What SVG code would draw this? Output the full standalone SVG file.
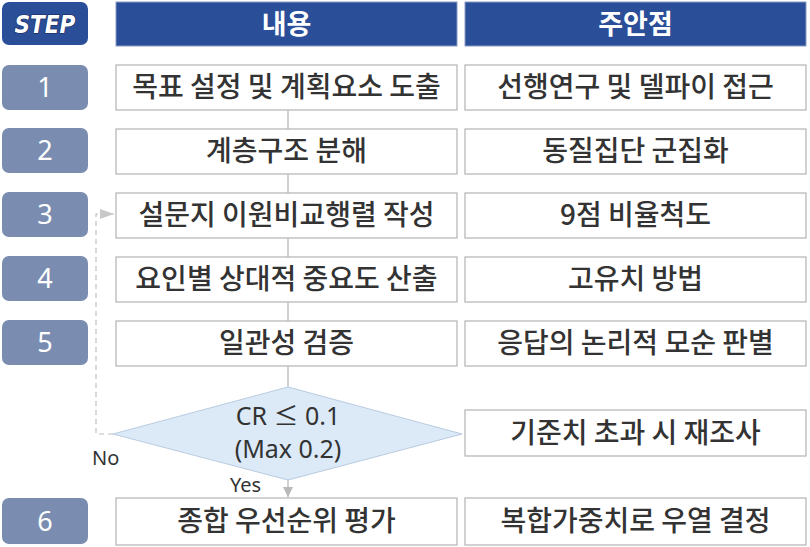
<svg xmlns="http://www.w3.org/2000/svg" width="810" height="547" viewBox="0 0 810 547">
<style>
.hdr{fill:#2b4e98;stroke:#8a9cc4;stroke-width:1}
.step{fill:#7a8db0}
.box{fill:#fff;stroke:#b3b3b3;stroke-width:1.2}
.kt{font-family:"Noto Sans CJK KR","Noto Sans",sans-serif;font-size:28px;font-weight:500;fill:#333;text-anchor:middle}
.ht{font-family:"Noto Sans CJK KR","Noto Sans",sans-serif;font-size:27px;font-weight:bold;fill:#fff;text-anchor:middle}
.nt{font-family:"Noto Sans","Noto Sans CJK KR",sans-serif;font-size:27px;fill:#fff;text-anchor:middle}
.lt{font-family:"Noto Sans","Noto Sans CJK KR",sans-serif;fill:#333}
.con{fill:none;stroke:#b3b3b3;stroke-width:1.2}
</style>
<defs>
<marker id="ah" viewBox="0 0 10 10" refX="10" refY="5" markerWidth="10" markerHeight="10" markerUnits="userSpaceOnUse" orient="auto">
<path d="M0,0 L10,5 L0,10 z" fill="#b8b8b8"/>
</marker>
<marker id="ah2" viewBox="0 0 14 10" refX="14" refY="5" markerWidth="14" markerHeight="10" markerUnits="userSpaceOnUse" orient="auto">
<path d="M0,0 L14,5 L0,10 z" fill="#c8c8c8"/>
</marker>
</defs>
<rect width="810" height="547" fill="#fff"/>
<g id="connectors">
<line class="con" x1="288" y1="110" x2="288" y2="387"/>
<line class="con" x1="288" y1="480" x2="288" y2="497" marker-end="url(#ah)"/>
<path d="M113,434 L96,434 L96,214 L114,214" fill="none" stroke="#c0c0c0" stroke-width="1.2" stroke-dasharray="5,4" marker-end="url(#ah2)"/>
</g>
<g id="header-step">
<rect x="2" y="2" width="86" height="43" rx="7" fill="#2b4e98"/>
<text x="45" y="33" font-family="DejaVu Sans Condensed,DejaVu Sans,sans-serif" font-size="24" font-weight="bold" font-style="oblique" fill="#fff" stroke="#14285a" stroke-width="1.2" paint-order="stroke" text-anchor="middle">STEP</text>
</g>
<g id="header-content">
<rect class="hdr" x="116" y="2" width="341" height="44"/>
<text class="ht" x="286.5" y="34">내용</text>
</g>
<g id="header-note">
<rect class="hdr" x="465" y="2" width="341" height="44"/>
<text class="ht" x="635.5" y="34">주안점</text>
</g>
<g id="step1">
<rect class="step" x="2" y="65" width="86" height="45" rx="7"/><text class="nt" x="45" y="97">1</text>
<rect class="box" x="116" y="65" width="341" height="45"/><text class="kt" x="286.5" y="97">목표 설정 및 계획요소 도출</text>
<rect class="box" x="465" y="65" width="341" height="45"/><text class="kt" x="635.5" y="97">선행연구 및 델파이 접근</text>
</g>
<g id="step2">
<rect class="step" x="2" y="128" width="86" height="45" rx="7"/><text class="nt" x="45" y="160">2</text>
<rect class="box" x="116" y="129" width="341" height="45"/><text class="kt" x="286.5" y="161">계층구조 분해</text>
<rect class="box" x="465" y="129" width="341" height="45"/><text class="kt" x="635.5" y="161">동질집단 군집화</text>
</g>
<g id="step3">
<rect class="step" x="2" y="192" width="86" height="45" rx="7"/><text class="nt" x="45" y="224">3</text>
<rect class="box" x="116" y="193" width="341" height="45"/><text class="kt" x="286.5" y="225">설문지 이원비교행렬 작성</text>
<rect class="box" x="465" y="193" width="341" height="45"/><text class="kt" x="635.5" y="225">9점 비율척도</text>
</g>
<g id="step4">
<rect class="step" x="2" y="256" width="86" height="45" rx="7"/><text class="nt" x="45" y="288">4</text>
<rect class="box" x="116" y="257" width="341" height="45"/><text class="kt" x="286.5" y="289">요인별 상대적 중요도 산출</text>
<rect class="box" x="465" y="257" width="341" height="45"/><text class="kt" x="635.5" y="289">고유치 방법</text>
</g>
<g id="step5">
<rect class="step" x="2" y="320" width="86" height="45" rx="7"/><text class="nt" x="45" y="352">5</text>
<rect class="box" x="116" y="321" width="341" height="45"/><text class="kt" x="286.5" y="353">일관성 검증</text>
<rect class="box" x="465" y="321" width="341" height="45"/><text class="kt" x="635.5" y="353">응답의 논리적 모순 판별</text>
</g>
<g id="decision">
<polygon points="288,387 462,434 288,480 113,434" fill="#dceaf8" stroke="#b9cbe0" stroke-width="1"/>
<text class="lt" x="288" y="425" font-size="25" text-anchor="middle">CR ≤ 0.1</text>
<text class="lt" x="288" y="458" font-size="25" text-anchor="middle">(Max 0.2)</text>
<text class="lt" x="92" y="465" font-size="20">No</text>
<text class="lt" x="230" y="492" font-size="20">Yes</text>
<rect class="box" x="465" y="410" width="341" height="46"/><text class="kt" x="635.5" y="443">기준치 초과 시 재조사</text>
</g>
<g id="step6">
<rect class="step" x="2" y="498" width="86" height="46" rx="7"/><text class="nt" x="45" y="531">6</text>
<rect class="box" x="116" y="498" width="341" height="47"/><text class="kt" x="286.5" y="531">종합 우선순위 평가</text>
<rect class="box" x="465" y="498" width="341" height="47"/><text class="kt" x="635.5" y="531">복합가중치로 우열 결정</text>
</g>
</svg>
